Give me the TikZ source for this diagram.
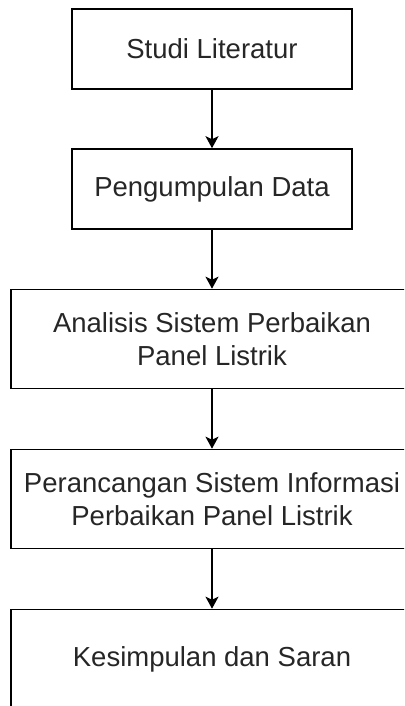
\documentclass[tikz,border=0pt]{standalone}
\usepackage{fontspec}
\setmainfont{Liberation Sans}
\usetikzlibrary{arrows.meta}

\begin{document}
\begin{tikzpicture}[x=1pt,y=-1pt,
    langkah/.style={draw,line width=1.6pt,align=center,inner sep=0pt,
      text=black!85,font=\fontsize{27.5}{33}\selectfont},
    sempit/.style={langkah,minimum width=280pt,minimum height=80pt},
    lebar/.style={langkah,minimum width=402pt,minimum height=99pt},
    panah/.style={line width=1.6pt,-{Stealth[length=12pt,width=13pt,inset=3pt]}}]
      \clip (0,0) rectangle (404,706);
      \path
      (212,49) node[sempit](studi) {Studi Literatur}
      (212,189) node[sempit](data) {Pengumpulan Data}
      (212,339) node[lebar](analisis) {Analisis Sistem Perbaikan\\Panel Listrik}
      (212,499) node[lebar](rancang) {Perancangan Sistem Informasi\\Perbaikan Panel Listrik}
      (212,659) node[lebar](simpul) {Kesimpulan dan Saran}
      ;

      \draw[panah] (studi) -- (data);
      \draw[panah] (data) -- (analisis);
      \draw[panah] (analisis) -- (rancang);
      \draw[panah] (rancang) -- (simpul);
    \end{tikzpicture}
\end{document}
